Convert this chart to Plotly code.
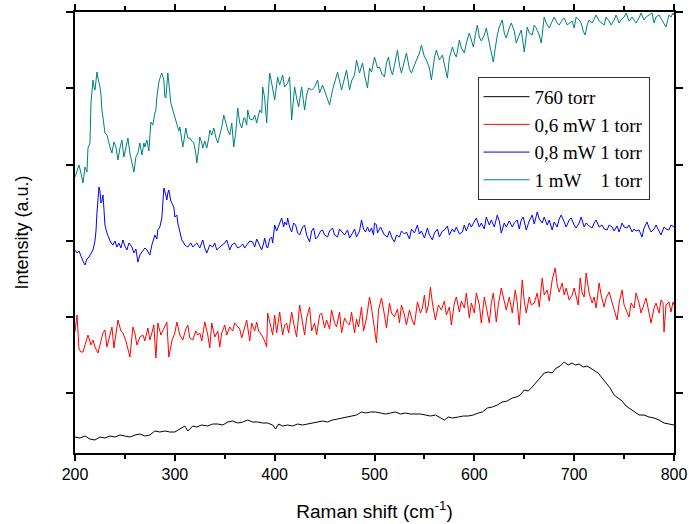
import plotly.graph_objects as go

# ---- data (Raman shift in cm^-1, intensity in a.u., curves already offset) ----
names = ["760 torr", "0,6 mW 1 torr", "0,8 mW 1 torr", "1 mW\u00a0\u00a0\u00a0\u00a01 torr"]
colors = ["#000000", "#FF0000", "#0000FF", "#008080"]

black_x = [200,205,210,215,220,225,230,235,240,245,250,255,260,265,270,275,280,285,290,295,300,305,310,313,318,322,327,333,338,343,348,353,358,363,368,373,378,383,388,393,398,401,404,408,413,418,423,428,433,438,443,448,453,458,463,467,472,477,482,487,491,496,501,506,511,516,521,526,531,536,541,546,551,556,561,566,570,574,578,584,589,594,599,604,608,613,618,623,628,633,638,642,646,650,654,658,662,666,670,674,678,682,686,690,694,698,701,705,709,713,716,720,724,728,732,736,740,744,748,752,756,760,765,770,775,780,785,790,795,800]
black_y = [16,15,17,14,13,16,15,17,16,18,17,16,18,19,17,18,22,21,22,21,21,24,27,22,27,26,28,27,29,29,28,31,32,30,31,33,31,31,30,30,28,24,29,27,28,27,29,28,29,30,31,32,31,33,34,35,36,37,38,41,40,41,41,40,39,40,41,39,40,39,39,39,38,37,38,35,33,36,35,36,37,37,38,40,41,45,46,48,51,52,55,56,58,63,62,66,71,76,80,81,80,85,87,91,88,90,88,89,86,87,85,83,80,75,70,65,58,55,52,47,44,41,38,38,36,35,33,30,29,28]

red_x = [200,202,204,206,208,210,213,216,218,220,223,226,228,230,232,235,237,239,241,243,246,248,251,253,255,258,260,262,265,268,270,273,275,277,279,281,283,286,289,292,294,297,300,302,305,308,311,313,315,318,321,323,325,327,330,333,335,337,340,343,345,347,350,352,355,358,360,362,365,367,370,372,375,377,380,382,384,387,390,392,393,396,398,400,402,405,408,410,412,414,417,420,422,425,428,430,432,435,437,440,442,445,447,450,452,455,457,460,462,465,467,470,472,475,477,480,482,484,487,489,492,495,497,499,502,504,507,510,512,515,517,520,523,525,527,530,532,535,538,540,543,546,548,550,552,554,556,558,561,564,567,570,572,575,577,580,582,585,587,590,592,595,597,600,602,605,607,610,612,615,617,619,622,624,627,630,632,635,638,641,643,645,648,650,652,655,657,660,663,665,668,670,673,675,678,681,683,685,688,690,692,695,698,700,702,704,706,708,710,712,715,718,720,722,725,727,730,732,735,738,740,743,745,748,750,752,755,757,760,762,765,767,770,772,775,777,780,782,785,787,789,790,792,795,797,799,800]
red_y = [121,138,104,101,101,108,118,108,113,106,100,112,120,123,106,118,126,105,118,133,122,120,112,104,96,126,120,108,116,118,112,125,113,120,128,95,130,118,124,131,96,112,120,131,118,113,124,128,115,113,122,118,120,112,131,118,105,130,116,122,106,120,128,118,126,122,130,128,124,115,126,133,112,130,122,131,122,118,112,106,140,126,118,138,120,141,118,128,130,120,141,125,116,148,130,118,135,146,122,130,118,138,140,125,133,124,143,130,126,141,120,135,131,128,141,120,134,126,146,122,135,156,145,130,110,143,155,138,125,150,140,136,144,130,148,138,128,143,132,128,151,140,145,158,140,148,166,150,133,148,143,152,138,146,128,150,156,141,152,145,160,135,150,140,160,148,130,156,144,130,150,160,131,148,165,150,143,156,140,163,150,128,173,152,140,156,148,150,160,146,175,158,163,152,173,185,168,161,170,158,165,153,158,165,155,148,175,160,156,180,160,150,156,145,170,158,146,155,161,150,143,133,150,163,148,143,136,150,145,160,150,140,148,155,140,130,145,150,140,153,150,121,148,151,141,151,148]

blue_x = [200,202,204,206,208,210,212,214,216,218,220,221,222,223,224,225,226,227,228,229,230,232,234,236,238,240,242,244,246,248,250,252,254,257,259,261,263,265,267,270,272,275,277,280,282,283,285,287,288,289,291,292,293,294,296,297,299,300,302,303,305,307,309,310,313,316,318,320,322,325,328,330,332,335,338,340,342,345,348,350,352,355,357,360,363,365,368,370,372,375,378,380,382,385,387,389,390,392,393,395,397,398,400,402,403,405,407,409,410,412,413,415,417,419,421,423,425,428,430,432,435,437,439,441,443,446,448,450,453,455,458,460,463,465,468,470,473,475,478,480,482,485,487,489,491,493,495,497,499,500,502,503,506,508,510,513,515,518,520,522,525,527,530,532,535,537,540,543,545,547,550,553,555,558,560,563,565,568,570,573,575,578,580,582,585,588,590,592,595,597,600,602,605,607,610,612,615,617,620,623,625,627,630,632,635,638,640,643,645,647,649,652,655,658,660,663,665,668,670,673,675,678,680,683,685,687,690,692,695,697,700,702,705,707,710,712,715,718,720,722,725,728,730,733,735,738,740,743,745,748,750,753,755,758,760,762,765,768,770,773,775,777,780,782,785,787,790,792,795,797,800]
blue_y = [203,200,202,196,192,188,194,196,200,203,212,222,240,256,266,262,250,252,258,244,228,220,214,210,208,212,206,210,205,213,207,203,210,206,200,204,191,198,201,205,203,198,208,218,214,223,226,235,250,265,258,253,260,263,252,250,246,236,238,230,220,213,210,208,206,210,206,208,210,205,213,205,200,208,206,210,203,206,208,210,213,203,208,210,205,206,209,205,208,212,211,206,214,208,203,210,215,206,205,214,216,210,228,222,225,230,235,226,231,228,235,226,221,230,228,220,218,226,228,218,211,222,225,214,216,222,223,218,216,222,225,218,216,224,220,218,223,215,220,224,216,222,233,224,221,226,221,225,218,230,228,220,226,222,218,216,222,214,211,218,216,222,219,221,214,224,220,228,219,222,215,225,218,213,220,224,216,222,223,227,218,224,221,226,219,221,228,222,230,226,232,235,226,230,224,236,228,233,226,238,232,220,230,226,232,226,230,233,224,233,236,223,232,238,229,241,234,230,236,228,233,223,231,226,234,238,231,226,233,235,228,225,230,236,226,230,227,225,230,233,226,228,224,223,228,226,222,227,221,230,226,225,228,221,224,222,223,216,225,231,225,221,224,228,222,218,226,224,223,228,226]

teal_x = [200,202,204,206,208,210,212,213,215,216,218,219,220,221,222,223,225,226,227,229,230,232,233,235,237,239,241,243,245,247,249,250,252,253,255,257,259,261,263,265,267,269,270,272,274,276,278,280,281,282,284,286,287,289,290,291,292,293,295,296,298,300,302,304,305,307,308,310,311,313,315,317,319,321,322,324,325,327,328,330,332,334,335,337,339,341,343,345,347,349,351,353,355,357,359,361,363,365,367,369,370,372,373,375,378,380,382,385,387,388,390,392,393,395,397,398,400,403,405,408,410,413,415,417,420,422,424,427,430,432,434,437,440,443,445,448,450,452,455,458,460,463,465,467,470,472,475,477,480,482,485,488,490,493,495,497,500,502,503,505,507,510,512,514,516,518,521,523,525,527,530,532,535,537,540,542,545,547,550,552,555,557,560,562,565,568,570,573,575,578,580,582,585,587,590,592,595,597,599,601,603,605,607,610,612,614,617,619,621,623,625,628,630,632,635,637,640,642,645,647,650,653,655,658,660,662,665,667,670,672,675,678,680,683,685,688,690,693,695,698,700,702,705,707,709,711,713,715,718,720,722,725,727,730,732,735,737,740,742,745,747,750,752,755,758,760,762,765,767,770,772,775,778,780,782,785,788,790,792,795,797,799,800]
teal_y = [276,282,288,280,270,286,281,305,310,350,373,366,363,372,381,375,366,358,343,328,320,318,313,306,300,311,306,293,305,313,296,300,308,315,300,291,281,296,300,310,298,310,306,313,302,331,328,340,343,356,371,378,380,373,356,355,370,380,360,350,343,335,330,322,326,315,306,318,325,315,315,312,310,300,290,305,316,310,305,312,305,315,323,318,325,316,310,318,326,338,330,323,318,330,306,320,345,330,325,335,335,328,343,334,333,338,330,343,340,366,355,330,350,380,370,363,353,376,368,378,366,370,376,333,366,355,346,366,343,358,365,363,366,373,360,368,362,356,348,363,370,381,372,363,375,383,363,372,378,393,380,390,378,365,385,381,396,390,385,386,380,376,390,396,384,378,395,403,388,380,392,400,384,380,388,393,400,408,396,393,385,373,395,403,393,398,390,375,395,406,400,396,413,405,400,410,420,412,406,418,428,416,412,418,425,415,401,391,405,418,426,433,420,415,425,430,422,410,418,423,401,426,420,418,428,425,418,410,436,430,425,432,436,430,428,433,435,428,430,432,425,436,433,430,422,418,428,433,430,435,438,432,430,428,436,432,428,433,438,430,433,436,440,432,436,433,430,435,440,433,436,438,440,430,436,438,433,430,426,438,436,440,438]

series_x = [black_x, red_x, blue_x, teal_x]
series_y = [black_y, red_y, blue_y, teal_y]

x_ticks = [200, 300, 400, 500, 600, 700, 800]
y_ticks = [60, 136, 212, 288, 365, 441]

fig = go.Figure()
for nm, col, xs, ys in zip(names, colors, series_x, series_y):
    fig.add_trace(go.Scatter(x=xs, y=ys, mode="lines", name=nm,
                             line=dict(color=col, width=1)))

fig.update_layout(
    width=689, height=524,
    margin=dict(l=75, r=15, t=12, b=71),
    paper_bgcolor="white", plot_bgcolor="white",
    showlegend=True,
    legend=dict(x=0.672, y=0.853, xanchor="left", yanchor="top",
                bgcolor="white", bordercolor="#333333", borderwidth=1,
                font=dict(family="Liberation Serif", size=19, color="black"),
                tracegroupgap=0, itemwidth=46),
    font=dict(family="Liberation Sans", color="black"),
)
fig.update_xaxes(range=[200, 800], tickvals=x_ticks, ticktext=[str(v) for v in x_ticks],
                 automargin=False,
                 showline=True, linecolor="black", linewidth=2, mirror="ticks",
                 ticks="outside", ticklen=6, tickwidth=1.5, tickcolor="black",
                 minor=dict(dtick=50, ticks="outside", ticklen=4, tickcolor="black", tickwidth=1.5),
                 showgrid=False, zeroline=False,
                 tickfont=dict(family="Liberation Sans", size=16, color="black"),
                 title=dict(text="Raman shift (cm<sup>-1</sup>)", standoff=22,
                            font=dict(family="Liberation Sans", size=19, color="black")))
fig.update_yaxes(range=[0, 441], tickvals=y_ticks, showticklabels=False,
                 automargin=False,
                 showline=True, linecolor="black", linewidth=2, mirror="ticks",
                 ticks="outside", ticklen=7, tickwidth=1.5, tickcolor="black",
                 showgrid=False, zeroline=False,
                 title=dict(text="Intensity (a.u.)", standoff=33,
                            font=dict(family="Liberation Sans", size=18, color="black")))

fig.write_html("out.html")
